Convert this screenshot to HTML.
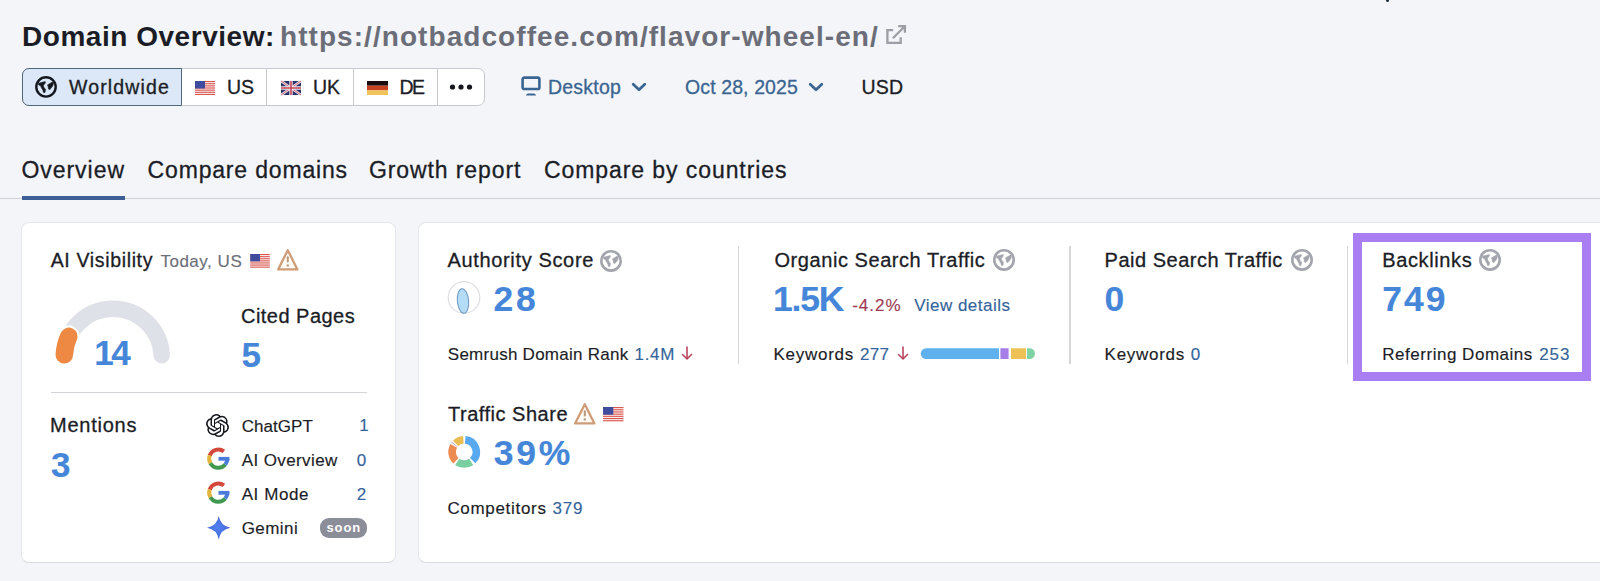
<!DOCTYPE html>
<html><head><meta charset="utf-8"><style>
html,body{margin:0;padding:0;}
body{width:1600px;height:581px;overflow:hidden;background:#f4f5f9;position:relative;font-family:"Liberation Sans",sans-serif;}
.t{position:absolute;white-space:pre;-webkit-text-stroke:0.3px currentColor;}
.b{-webkit-text-stroke:0.3px currentColor;}
.a{position:absolute;}
svg{position:absolute;overflow:visible;}
</style></head><body>
<!-- header button group -->
<div class="a" style="left:21.5px;top:67.5px;width:463px;height:38px;background:#fff;border:1px solid #c6c9d0;border-radius:7px;box-sizing:border-box;"></div>
<div class="a" style="left:21.5px;top:67.5px;width:160px;height:38px;background:#dce8f7;border:1.8px solid #4f677d;border-radius:7px 0 0 7px;box-sizing:border-box;"></div>
<div class="a" style="left:265.7px;top:68px;width:1px;height:37px;background:#c6c9d0;"></div>
<div class="a" style="left:352.7px;top:68px;width:1px;height:37px;background:#c6c9d0;"></div>
<div class="a" style="left:437px;top:68px;width:1px;height:37px;background:#c6c9d0;"></div>
<!-- globe dark -->
<svg style="left:32px;top:73px" width="28" height="28" viewBox="0 0 28 28">
 <circle cx="14" cy="13.9" r="9.7" fill="none" stroke="#15171e" stroke-width="2.4"/>
 <path d="M6.6 10.2 L13.2 8.6 L13.4 9.8 L11.2 12.8 L12 14.4 L13.5 16.4 L13 19.4 L11.6 19.6 L10.9 17.2 L9.3 14.6 L8.4 12.5 L6.6 12 Z" fill="#15171e" stroke="#15171e" stroke-width="0.6" stroke-linejoin="round"/>
 <path d="M15.5 11.9 L20.4 9.1 L21.5 10.3 L20.7 13.1 L17.7 16.7 L16.5 16 L16.2 13.7 Z" fill="#15171e" stroke="#15171e" stroke-width="0.6" stroke-linejoin="round"/>
</svg>
<!-- US flag -->
<svg style="left:195px;top:81px" width="20" height="14" viewBox="0 0 20 14">
 <rect width="20" height="14" fill="#f4eeee"/>
 <rect y="0.000" width="20" height="1.077" fill="#e0564f"/><rect y="2.154" width="20" height="1.077" fill="#e0564f"/><rect y="4.308" width="20" height="1.077" fill="#e0564f"/><rect y="6.462" width="20" height="1.077" fill="#e0564f"/><rect y="8.615" width="20" height="1.077" fill="#e0564f"/><rect y="10.769" width="20" height="1.077" fill="#e0564f"/><rect y="12.923" width="20" height="1.077" fill="#e0564f"/>
 <rect width="10" height="7.5" fill="#3f4c9e"/>
</svg>
<!-- UK flag -->
<svg style="left:280.5px;top:81px" width="20" height="14" viewBox="0 0 20 14">
 <rect width="20" height="14" fill="#2d3168"/>
 <path d="M0 0 L20 14 M20 0 L0 14" stroke="#eee8ee" stroke-width="2.6"/>
 <path d="M0 0 L20 14 M20 0 L0 14" stroke="#c24a60" stroke-width="0.8"/>
 <path d="M10 0 V14 M0 7 H20" stroke="#eee8ee" stroke-width="3.4"/>
 <path d="M10 0 V14 M0 7 H20" stroke="#c8455c" stroke-width="1.6"/>
</svg>
<!-- DE flag -->
<svg style="left:366.5px;top:81px" width="21" height="14" viewBox="0 0 21 14">
 <rect width="21" height="4.7" fill="#180c0c"/><rect y="4.7" width="21" height="4.7" fill="#c9421f"/><rect y="9.4" width="21" height="4.6" fill="#f0c45a"/>
</svg>
<!-- dots -->
<svg style="left:449px;top:82px" width="26" height="10" viewBox="0 0 26 10">
 <circle cx="3.5" cy="5" r="2.6" fill="#15171e"/><circle cx="12" cy="5" r="2.6" fill="#15171e"/><circle cx="20.5" cy="5" r="2.6" fill="#15171e"/>
</svg>
<!-- monitor -->
<svg style="left:518px;top:74px" width="26" height="24" viewBox="0 0 26 24">
 <rect x="4.6" y="3.6" width="16.8" height="11.4" rx="1.6" fill="none" stroke="#3a6591" stroke-width="2.6"/>
 <path d="M8 21.6 Q8 19.6 10 19.4 H16 Q18 19.6 18 21.6 Z" fill="#3a6591"/>
</svg>
<!-- chevrons -->
<svg style="left:630px;top:80px" width="18" height="14" viewBox="0 0 18 14">
 <path d="M3.2 4.2 L9 9.8 L14.8 4.2" fill="none" stroke="#3a6591" stroke-width="2.7" stroke-linecap="round" stroke-linejoin="round"/>
</svg>
<svg style="left:807px;top:80px" width="18" height="14" viewBox="0 0 18 14">
 <path d="M3.2 4.2 L9 9.8 L14.8 4.2" fill="none" stroke="#3a6591" stroke-width="2.7" stroke-linecap="round" stroke-linejoin="round"/>
</svg>
<!-- external link -->
<svg style="left:880px;top:18px" width="32" height="32" viewBox="0 0 32 32">
 <path d="M13.2 12.1 H7.4 V24.8 H20.7 V19.3" fill="none" stroke="#9c9ea5" stroke-width="2.3"/>
 <path d="M12.9 20.2 L24.3 8.8 M18.2 8.2 H24.9 V14.8" fill="none" stroke="#9c9ea5" stroke-width="2.3"/>
</svg>
<!-- tabs underline + divider -->
<div class="a" style="left:0;top:198px;width:1600px;height:1.3px;background:#cdd0d6;"></div>
<div class="a" style="left:21.5px;top:196px;width:103.5px;height:4px;background:#3e5f96;"></div>
<!-- cards -->
<div class="a" style="left:20.7px;top:221.7px;width:375px;height:341px;background:#fff;border:1px solid #e4e6ec;border-bottom-color:#d8dae0;border-radius:8px;box-sizing:border-box;"></div>
<div class="a" style="left:418.2px;top:221.7px;width:1220px;height:341px;background:#fff;border:1px solid #e4e6ec;border-bottom-color:#d8dae0;border-radius:8px;box-sizing:border-box;"></div>
<!-- US flag small (AI visibility) -->
<svg style="left:250px;top:254.3px" width="20" height="13.7" viewBox="0 0 20 14">
 <rect width="20" height="14" fill="#f4eeee"/>
 <rect y="0.000" width="20" height="1.077" fill="#e0564f"/><rect y="2.154" width="20" height="1.077" fill="#e0564f"/><rect y="4.308" width="20" height="1.077" fill="#e0564f"/><rect y="6.462" width="20" height="1.077" fill="#e0564f"/><rect y="8.615" width="20" height="1.077" fill="#e0564f"/><rect y="10.769" width="20" height="1.077" fill="#e0564f"/><rect y="12.923" width="20" height="1.077" fill="#e0564f"/>
 <rect width="10" height="7.5" fill="#3f4c9e"/>
</svg>
<!-- warning -->
<svg style="left:275.2px;top:248.3px" width="25" height="23" viewBox="0 0 25 23">
 <path d="M12.8 2.2 L22.4 21.4 H3.1 Z" fill="#fffaf4" stroke="#cf9c78" stroke-width="2.3" stroke-linejoin="round"/>
 <rect x="11.8" y="8.2" width="2" height="6.4" rx="1" fill="#b9977a"/>
 <circle cx="12.8" cy="17.4" r="1.2" fill="#b9977a"/>
</svg>
<!-- gauge -->
<svg style="left:40px;top:290px" width="140" height="85" viewBox="0 0 140 85">
 <path d="M24.3 65.2 A48.75 48.75 0 0 1 121.7 65.2" fill="none" stroke="#dfe1e8" stroke-width="16.5" stroke-linecap="round"/>
 <path d="M24.30 64.87 A48.75 48.75 0 0 1 28.82 46.40" fill="none" stroke="#ffffff" stroke-width="22" stroke-linecap="round"/>
 <path d="M24.30 64.87 A48.75 48.75 0 0 1 28.82 46.40" fill="none" stroke="#ee8943" stroke-width="17.5" stroke-linecap="round"/>
</svg>
<!-- divider in left card -->
<div class="a" style="left:50.5px;top:392px;width:316px;height:1.3px;background:#d3d5db;"></div>
<!-- ChatGPT logo -->
<svg style="left:206.4px;top:413.5px" width="23" height="23" viewBox="0 0 24 24">
 <path fill="#15171e" d="M22.2819 9.8211a5.9847 5.9847 0 0 0-.5157-4.9108 6.0462 6.0462 0 0 0-6.5098-2.9A6.0651 6.0651 0 0 0 4.9807 4.1818a5.9847 5.9847 0 0 0-3.9977 2.9 6.0462 6.0462 0 0 0 .7427 7.0966 5.98 5.98 0 0 0 .511 4.9107 6.051 6.051 0 0 0 6.5146 2.9001A5.9847 5.9847 0 0 0 13.2599 24a6.0557 6.0557 0 0 0 5.7718-4.2058 5.9894 5.9894 0 0 0 3.9977-2.9001 6.0557 6.0557 0 0 0-.7475-7.0729zm-9.022 12.6081a4.4755 4.4755 0 0 1-2.8764-1.0408l.1419-.0804 4.7783-2.7582a.7948.7948 0 0 0 .3927-.6813v-6.7369l2.02 1.1686a.071.071 0 0 1 .038.052v5.5826a4.504 4.504 0 0 1-4.4945 4.4944zm-9.6607-4.1254a4.4708 4.4708 0 0 1-.5346-3.0137l.142.0852 4.783 2.7582a.7712.7712 0 0 0 .7806 0l5.8428-3.3685v2.3324a.0804.0804 0 0 1-.0332.0615L9.74 19.9502a4.4992 4.4992 0 0 1-6.1408-1.6464zM2.3408 7.8956a4.485 4.485 0 0 1 2.3655-1.9728V11.6a.7664.7664 0 0 0 .3879.6765l5.8144 3.3543-2.0201 1.1685a.0757.0757 0 0 1-.071 0l-4.8303-2.7865A4.504 4.504 0 0 1 2.3408 7.872zm16.5963 3.8558L13.1038 8.364 15.1192 7.2a.0757.0757 0 0 1 .071 0l4.8303 2.7913a4.4944 4.4944 0 0 1-.6765 8.1042v-5.6772a.79.79 0 0 0-.407-.667zm2.0107-3.0231l-.142-.0852-4.7735-2.7818a.7759.7759 0 0 0-.7854 0L9.409 9.2297V6.8974a.0662.0662 0 0 1 .0284-.0615l4.8303-2.7866a4.4992 4.4992 0 0 1 6.6802 4.66zM8.3065 12.863l-2.02-1.1638a.0804.0804 0 0 1-.038-.0567V6.0742a4.4992 4.4992 0 0 1 7.3757-3.4537l-.142.0805L8.704 5.459a.7948.7948 0 0 0-.3927.6813zm1.0976-2.3654l2.602-1.4998 2.6069 1.4998v2.9994l-2.5974 1.4997-2.6067-1.4997Z"/>
</svg>
<!-- Google G x2 -->
<svg style="left:202px;top:442px" width="32" height="32" viewBox="0 0 32 32">
 <g fill="none" stroke-width="4">
  <path d="M21.9 9.43 A9.1 9.1 0 0 0 7.75 13.49" stroke="#d4483b"/>
  <path d="M7.75 13.49 A9.1 9.1 0 0 0 8.42 21.15" stroke="#e3b43c"/>
  <path d="M8.42 21.15 A9.1 9.1 0 0 0 23.27 22.45" stroke="#40994f"/>
  <path d="M23.27 22.45 A9.1 9.1 0 0 0 25.4 16.6" stroke="#4a7bdb"/>
 </g>
 <rect x="16.5" y="14.9" width="10.9" height="3.8" fill="#4a7bdb"/>
</svg>
<svg style="left:202px;top:476px" width="32" height="32" viewBox="0 0 32 32">
 <g fill="none" stroke-width="4">
  <path d="M21.9 9.43 A9.1 9.1 0 0 0 7.75 13.49" stroke="#d4483b"/>
  <path d="M7.75 13.49 A9.1 9.1 0 0 0 8.42 21.15" stroke="#e3b43c"/>
  <path d="M8.42 21.15 A9.1 9.1 0 0 0 23.27 22.45" stroke="#40994f"/>
  <path d="M23.27 22.45 A9.1 9.1 0 0 0 25.4 16.6" stroke="#4a7bdb"/>
 </g>
 <rect x="16.5" y="14.9" width="10.9" height="3.8" fill="#4a7bdb"/>
</svg>
<!-- Gemini star -->
<svg style="left:205.6px;top:514.8px" width="25.5" height="25.5" viewBox="0 0 24 24">
 <defs><radialGradient id="gm" cx="0.45" cy="0.5" r="0.6"><stop offset="0" stop-color="#4f80f2"/><stop offset="0.6" stop-color="#4a6fe0"/><stop offset="1" stop-color="#5a5fb8"/></radialGradient></defs>
 <path d="M12 1 Q13.65 10.35 23 12 Q13.65 13.65 12 23 Q10.35 13.65 1 12 Q10.35 10.35 12 1 Z" fill="url(#gm)"/>
</svg>
<!-- soon badge -->
<div class="a" style="left:319.5px;top:518px;width:47px;height:19.5px;background:#8b8d98;border-radius:9px;"></div>
<!-- gray globes -->
<svg style="left:597px;top:246.5px" width="28" height="28" viewBox="0 0 28 28">
 <circle cx="14" cy="13.9" r="9.7" fill="none" stroke="#a3a5ac" stroke-width="2.6"/>
 <path d="M6.6 10.2 L13.2 8.6 L13.4 9.8 L11.2 12.8 L12 14.4 L13.5 16.4 L13 19.4 L11.6 19.6 L10.9 17.2 L9.3 14.6 L8.4 12.5 L6.6 12 Z" fill="#a3a5ac" stroke="#a3a5ac" stroke-width="0.6" stroke-linejoin="round"/>
 <path d="M15.5 11.9 L20.4 9.1 L21.5 10.3 L20.7 13.1 L17.7 16.7 L16.5 16 L16.2 13.7 Z" fill="#a3a5ac" stroke="#a3a5ac" stroke-width="0.6" stroke-linejoin="round"/>
</svg>
<svg style="left:989.5px;top:246px" width="28" height="28" viewBox="0 0 28 28">
 <circle cx="14" cy="13.9" r="9.7" fill="none" stroke="#a3a5ac" stroke-width="2.6"/>
 <path d="M6.6 10.2 L13.2 8.6 L13.4 9.8 L11.2 12.8 L12 14.4 L13.5 16.4 L13 19.4 L11.6 19.6 L10.9 17.2 L9.3 14.6 L8.4 12.5 L6.6 12 Z" fill="#a3a5ac" stroke="#a3a5ac" stroke-width="0.6" stroke-linejoin="round"/>
 <path d="M15.5 11.9 L20.4 9.1 L21.5 10.3 L20.7 13.1 L17.7 16.7 L16.5 16 L16.2 13.7 Z" fill="#a3a5ac" stroke="#a3a5ac" stroke-width="0.6" stroke-linejoin="round"/>
</svg>
<svg style="left:1287.5px;top:246px" width="28" height="28" viewBox="0 0 28 28">
 <circle cx="14" cy="13.9" r="9.7" fill="none" stroke="#a3a5ac" stroke-width="2.6"/>
 <path d="M6.6 10.2 L13.2 8.6 L13.4 9.8 L11.2 12.8 L12 14.4 L13.5 16.4 L13 19.4 L11.6 19.6 L10.9 17.2 L9.3 14.6 L8.4 12.5 L6.6 12 Z" fill="#a3a5ac" stroke="#a3a5ac" stroke-width="0.6" stroke-linejoin="round"/>
 <path d="M15.5 11.9 L20.4 9.1 L21.5 10.3 L20.7 13.1 L17.7 16.7 L16.5 16 L16.2 13.7 Z" fill="#a3a5ac" stroke="#a3a5ac" stroke-width="0.6" stroke-linejoin="round"/>
</svg>
<svg style="left:1475.5px;top:246px" width="28" height="28" viewBox="0 0 28 28">
 <circle cx="14" cy="13.9" r="9.7" fill="none" stroke="#a3a5ac" stroke-width="2.6"/>
 <path d="M6.6 10.2 L13.2 8.6 L13.4 9.8 L11.2 12.8 L12 14.4 L13.5 16.4 L13 19.4 L11.6 19.6 L10.9 17.2 L9.3 14.6 L8.4 12.5 L6.6 12 Z" fill="#a3a5ac" stroke="#a3a5ac" stroke-width="0.6" stroke-linejoin="round"/>
 <path d="M15.5 11.9 L20.4 9.1 L21.5 10.3 L20.7 13.1 L17.7 16.7 L16.5 16 L16.2 13.7 Z" fill="#a3a5ac" stroke="#a3a5ac" stroke-width="0.6" stroke-linejoin="round"/>
</svg>
<!-- AS icon -->
<svg style="left:447px;top:281px" width="35" height="35" viewBox="0 0 35 35">
 <circle cx="17" cy="16.5" r="15.8" fill="#fff" stroke="#dedfe3" stroke-width="1.2"/>
 <ellipse cx="16" cy="20" rx="5.6" ry="12.3" transform="rotate(-5 16 20)" fill="#b5dcf6" stroke="#6f9cc2" stroke-width="1.1"/>
</svg>
<!-- red arrows -->
<svg style="left:678.8px;top:345px" width="16" height="17" viewBox="0 0 16 17">
 <path d="M8 2 V14 M3.5 9.5 L8 14 L12.5 9.5" fill="none" stroke="#b8485e" stroke-width="1.6" stroke-linecap="round" stroke-linejoin="round"/>
</svg>
<svg style="left:894.5px;top:345px" width="16" height="17" viewBox="0 0 16 17">
 <path d="M8 2 V14 M3.5 9.5 L8 14 L12.5 9.5" fill="none" stroke="#b8485e" stroke-width="1.6" stroke-linecap="round" stroke-linejoin="round"/>
</svg>
<!-- vertical dividers -->
<div class="a" style="left:737.8px;top:246px;width:1.3px;height:118px;background:#d5d7dc;"></div>
<div class="a" style="left:1069.3px;top:246px;width:1.3px;height:118px;background:#d5d7dc;"></div>
<div class="a" style="left:1347px;top:246px;width:1.3px;height:118px;background:#d5d7dc;"></div>
<!-- keyword bar -->
<svg style="left:920px;top:347px" width="118" height="13" viewBox="0 0 118 13">
 <defs><clipPath id="kb"><rect x="0.8" y="1.2" width="114.2" height="10.8" rx="5.4"/></clipPath></defs>
 <g clip-path="url(#kb)">
  <rect x="0" y="0" width="79" height="13" fill="#5fb1ee"/>
  <rect x="80.4" y="0" width="8.2" height="13" fill="#a57ee6"/>
  <rect x="91" y="0" width="15" height="13" fill="#eec156"/>
  <rect x="107" y="0" width="12" height="13" fill="#7ed3a4"/>
 </g>
</svg>
<!-- purple highlight -->
<div class="a" style="left:1353px;top:232.8px;width:238px;height:148.2px;border:9.2px solid #a87ef2;box-sizing:border-box;"></div>
<!-- traffic share warning + flag -->
<svg style="left:572.3px;top:401.5px" width="25" height="23" viewBox="0 0 25 23">
 <path d="M12.8 2.2 L22.4 21.4 H3.1 Z" fill="#fffaf4" stroke="#cf9c78" stroke-width="2.3" stroke-linejoin="round"/>
 <rect x="11.8" y="8.2" width="2" height="6.4" rx="1" fill="#b9977a"/>
 <circle cx="12.8" cy="17.4" r="1.2" fill="#b9977a"/>
</svg>
<svg style="left:603px;top:406.5px" width="20.5" height="14.3" viewBox="0 0 20 14">
 <rect width="20" height="14" fill="#f4eeee"/>
 <rect y="0.000" width="20" height="1.077" fill="#e0564f"/><rect y="2.154" width="20" height="1.077" fill="#e0564f"/><rect y="4.308" width="20" height="1.077" fill="#e0564f"/><rect y="6.462" width="20" height="1.077" fill="#e0564f"/><rect y="8.615" width="20" height="1.077" fill="#e0564f"/><rect y="10.769" width="20" height="1.077" fill="#e0564f"/><rect y="12.923" width="20" height="1.077" fill="#e0564f"/>
 <rect width="10" height="7.5" fill="#3f4c9e"/>
</svg>
<!-- donut -->
<svg style="left:446px;top:434px" width="36" height="36" viewBox="0 0 36 36">
 <g fill="none" stroke-width="7.6">
  <path d="M19.25 5.85 A12.1 12.1 0 0 1 26.61 26.60" stroke="#58a9ef"/>
  <path d="M25.14 27.81 A12.1 12.1 0 0 1 11.26 27.81" stroke="#79cf9f"/>
  <path d="M9.95 26.75 A12.1 12.1 0 0 1 7.72 11.85" stroke="#ec8b52"/>
  <path d="M8.41 10.79 A12.1 12.1 0 0 1 8.80 10.29" stroke="#9a7a9a"/>
  <path d="M9.64 9.34 A12.1 12.1 0 0 1 17.36 5.83" stroke="#ebbd55"/>
 </g>
</svg>

<div class="a" style="left:1386px;top:-1.5px;width:3.2px;height:3.2px;border-radius:50%;background:#25323f;"></div>

<span class="t" style="left:22.00px;top:22.60px;font-size:28px;line-height:28px;font-weight:700;color:#1b1d26;letter-spacing:0.535px;-webkit-text-stroke:0;">Domain Overview:</span>
<span class="t" style="left:280.00px;top:22.60px;font-size:28px;line-height:28px;font-weight:700;color:#6b6e78;letter-spacing:1.060px;-webkit-text-stroke:0;">https://notbadcoffee.com/flavor-wheel-en/</span>
<span class="t" style="left:69.00px;top:78.10px;font-size:19.5px;line-height:19.5px;font-weight:400;color:#1b1d26;letter-spacing:1.146px;">Worldwide</span>
<span class="t" style="left:227.00px;top:78.10px;font-size:19.5px;line-height:19.5px;font-weight:400;color:#1b1d26;letter-spacing:-0.082px;">US</span>
<span class="t" style="left:313.00px;top:78.10px;font-size:19.5px;line-height:19.5px;font-weight:400;color:#1b1d26;letter-spacing:-0.082px;">UK</span>
<span class="t" style="left:399.60px;top:78.10px;font-size:19.5px;line-height:19.5px;font-weight:400;color:#1b1d26;letter-spacing:-1.682px;">DE</span>
<span class="t" style="left:548.00px;top:78.10px;font-size:19.5px;line-height:19.5px;font-weight:400;color:#3a6591;letter-spacing:0.218px;">Desktop</span>
<span class="t" style="left:685.00px;top:78.10px;font-size:19.5px;line-height:19.5px;font-weight:400;color:#3a6591;letter-spacing:0.108px;">Oct 28, 2025</span>
<span class="t" style="left:861.50px;top:78.10px;font-size:19.5px;line-height:19.5px;font-weight:400;color:#1b1d26;letter-spacing:0.206px;">USD</span>
<span class="t" style="left:21.40px;top:159.20px;font-size:23px;line-height:23px;font-weight:400;color:#1b1d26;letter-spacing:0.965px;">Overview</span>
<span class="t" style="left:147.60px;top:159.20px;font-size:23px;line-height:23px;font-weight:400;color:#1b1d26;letter-spacing:0.827px;">Compare domains</span>
<span class="t" style="left:369.00px;top:159.20px;font-size:23px;line-height:23px;font-weight:400;color:#1b1d26;letter-spacing:0.899px;">Growth report</span>
<span class="t" style="left:544.00px;top:159.20px;font-size:23px;line-height:23px;font-weight:400;color:#1b1d26;letter-spacing:0.922px;">Compare by countries</span>
<span class="t" style="left:50.70px;top:250.70px;font-size:19.5px;line-height:19.5px;font-weight:400;color:#1b1d26;letter-spacing:0.653px;">AI Visibility</span>
<span class="t" style="left:160.40px;top:252.70px;font-size:17px;line-height:17px;font-weight:400;color:#6d6f7a;letter-spacing:0.522px;-webkit-text-stroke:0.15px currentColor;">Today, US</span>
<span class="t" style="left:94.30px;top:335.30px;font-size:35px;line-height:35px;font-weight:700;color:#4586d9;letter-spacing:-2.465px;-webkit-text-stroke:0.15px currentColor;">14</span>
<span class="t" style="left:241.00px;top:305.80px;font-size:20px;line-height:20px;font-weight:400;color:#1b1d26;letter-spacing:0.474px;">Cited Pages</span>
<span class="t" style="left:241.60px;top:337.00px;font-size:35px;line-height:35px;font-weight:700;color:#4586d9;letter-spacing:0.000px;-webkit-text-stroke:0.15px currentColor;">5</span>
<span class="t" style="left:50.00px;top:415.00px;font-size:20px;line-height:20px;font-weight:400;color:#1b1d26;letter-spacing:0.764px;">Mentions</span>
<span class="t" style="left:51.00px;top:447.00px;font-size:35px;line-height:35px;font-weight:700;color:#4586d9;letter-spacing:0.000px;-webkit-text-stroke:0.15px currentColor;">3</span>
<span class="t" style="left:241.70px;top:417.80px;font-size:17px;line-height:17px;font-weight:400;color:#1b1d26;letter-spacing:0.038px;-webkit-text-stroke:0.15px currentColor;">ChatGPT</span>
<span class="t" style="left:359.20px;top:417.20px;font-size:17px;line-height:17px;font-weight:400;color:#34649a;letter-spacing:0.000px;-webkit-text-stroke:0.15px currentColor;">1</span>
<span class="t" style="left:241.70px;top:451.60px;font-size:17px;line-height:17px;font-weight:400;color:#1b1d26;letter-spacing:0.394px;-webkit-text-stroke:0.15px currentColor;">AI Overview</span>
<span class="t" style="left:356.80px;top:451.60px;font-size:17px;line-height:17px;font-weight:400;color:#34649a;letter-spacing:0.000px;-webkit-text-stroke:0.15px currentColor;">0</span>
<span class="t" style="left:241.70px;top:485.50px;font-size:17px;line-height:17px;font-weight:400;color:#1b1d26;letter-spacing:0.574px;-webkit-text-stroke:0.15px currentColor;">AI Mode</span>
<span class="t" style="left:356.80px;top:485.50px;font-size:17px;line-height:17px;font-weight:400;color:#34649a;letter-spacing:0.000px;-webkit-text-stroke:0.15px currentColor;">2</span>
<span class="t" style="left:241.70px;top:519.50px;font-size:17px;line-height:17px;font-weight:400;color:#1b1d26;letter-spacing:0.446px;-webkit-text-stroke:0.15px currentColor;">Gemini</span>
<span class="t" style="left:326.50px;top:521.30px;font-size:13px;line-height:13px;font-weight:700;color:#ffffff;letter-spacing:0.863px;-webkit-text-stroke:0.15px currentColor;-webkit-text-stroke:0;">soon</span>
<span class="t" style="left:447.60px;top:249.90px;font-size:20px;line-height:20px;font-weight:400;color:#1b1d26;letter-spacing:0.642px;">Authority Score</span>
<span class="t" style="left:493.40px;top:282.30px;font-size:35.5px;line-height:35.5px;font-weight:700;color:#4586d9;letter-spacing:2.857px;-webkit-text-stroke:0.15px currentColor;">28</span>
<span class="t" style="left:447.80px;top:345.60px;font-size:17px;line-height:17px;font-weight:400;color:#1b1d26;letter-spacing:0.259px;-webkit-text-stroke:0.15px currentColor;">Semrush Domain Rank</span>
<span class="t" style="left:634.50px;top:345.60px;font-size:17px;line-height:17px;font-weight:400;color:#34649a;letter-spacing:0.723px;-webkit-text-stroke:0.15px currentColor;">1.4M</span>
<span class="t" style="left:774.50px;top:249.80px;font-size:20px;line-height:20px;font-weight:400;color:#1b1d26;letter-spacing:0.559px;">Organic Search Traffic</span>
<span class="t" style="left:773.00px;top:281.70px;font-size:35.5px;line-height:35.5px;font-weight:700;color:#4586d9;letter-spacing:-1.183px;-webkit-text-stroke:0.15px currentColor;">1.5K</span>
<span class="t" style="left:852.20px;top:296.90px;font-size:17px;line-height:17px;font-weight:400;color:#9c3a52;letter-spacing:1.002px;-webkit-text-stroke:0.15px currentColor;">-4.2%</span>
<span class="t" style="left:914.30px;top:296.90px;font-size:17px;line-height:17px;font-weight:400;color:#34649a;letter-spacing:0.472px;-webkit-text-stroke:0.15px currentColor;">View details</span>
<span class="t" style="left:773.50px;top:345.60px;font-size:17px;line-height:17px;font-weight:400;color:#1b1d26;letter-spacing:0.723px;-webkit-text-stroke:0.15px currentColor;">Keywords</span>
<span class="t" style="left:860.00px;top:345.60px;font-size:17px;line-height:17px;font-weight:400;color:#34649a;letter-spacing:0.345px;-webkit-text-stroke:0.15px currentColor;">277</span>
<span class="t" style="left:1104.60px;top:250.20px;font-size:20px;line-height:20px;font-weight:400;color:#1b1d26;letter-spacing:0.508px;">Paid Search Traffic</span>
<span class="t" style="left:1104.60px;top:282.00px;font-size:35.5px;line-height:35.5px;font-weight:700;color:#4586d9;letter-spacing:0.000px;-webkit-text-stroke:0.15px currentColor;">0</span>
<span class="t" style="left:1104.60px;top:346.00px;font-size:17px;line-height:17px;font-weight:400;color:#1b1d26;letter-spacing:0.723px;-webkit-text-stroke:0.15px currentColor;">Keywords</span>
<span class="t" style="left:1190.80px;top:346.00px;font-size:17px;line-height:17px;font-weight:400;color:#34649a;letter-spacing:0.000px;-webkit-text-stroke:0.15px currentColor;">0</span>
<span class="t" style="left:1382.30px;top:250.20px;font-size:20px;line-height:20px;font-weight:400;color:#1b1d26;letter-spacing:0.616px;">Backlinks</span>
<span class="t" style="left:1382.30px;top:282.00px;font-size:35.5px;line-height:35.5px;font-weight:700;color:#4586d9;letter-spacing:1.957px;-webkit-text-stroke:0.15px currentColor;">749</span>
<span class="t" style="left:1382.30px;top:346.00px;font-size:17px;line-height:17px;font-weight:400;color:#1b1d26;letter-spacing:0.518px;-webkit-text-stroke:0.15px currentColor;">Referring Domains</span>
<span class="t" style="left:1539.20px;top:346.00px;font-size:17px;line-height:17px;font-weight:400;color:#34649a;letter-spacing:0.945px;-webkit-text-stroke:0.15px currentColor;">253</span>
<span class="t" style="left:448.00px;top:403.80px;font-size:20px;line-height:20px;font-weight:400;color:#1b1d26;letter-spacing:0.512px;">Traffic Share</span>
<span class="t" style="left:493.70px;top:435.70px;font-size:35.5px;line-height:35.5px;font-weight:700;color:#4586d9;letter-spacing:2.807px;-webkit-text-stroke:0.15px currentColor;">39%</span>
<span class="t" style="left:447.40px;top:500.20px;font-size:17px;line-height:17px;font-weight:400;color:#1b1d26;letter-spacing:0.686px;-webkit-text-stroke:0.15px currentColor;">Competitors</span>
<span class="t" style="left:552.50px;top:500.20px;font-size:17px;line-height:17px;font-weight:400;color:#34649a;letter-spacing:0.795px;-webkit-text-stroke:0.15px currentColor;">379</span>
</body></html>
